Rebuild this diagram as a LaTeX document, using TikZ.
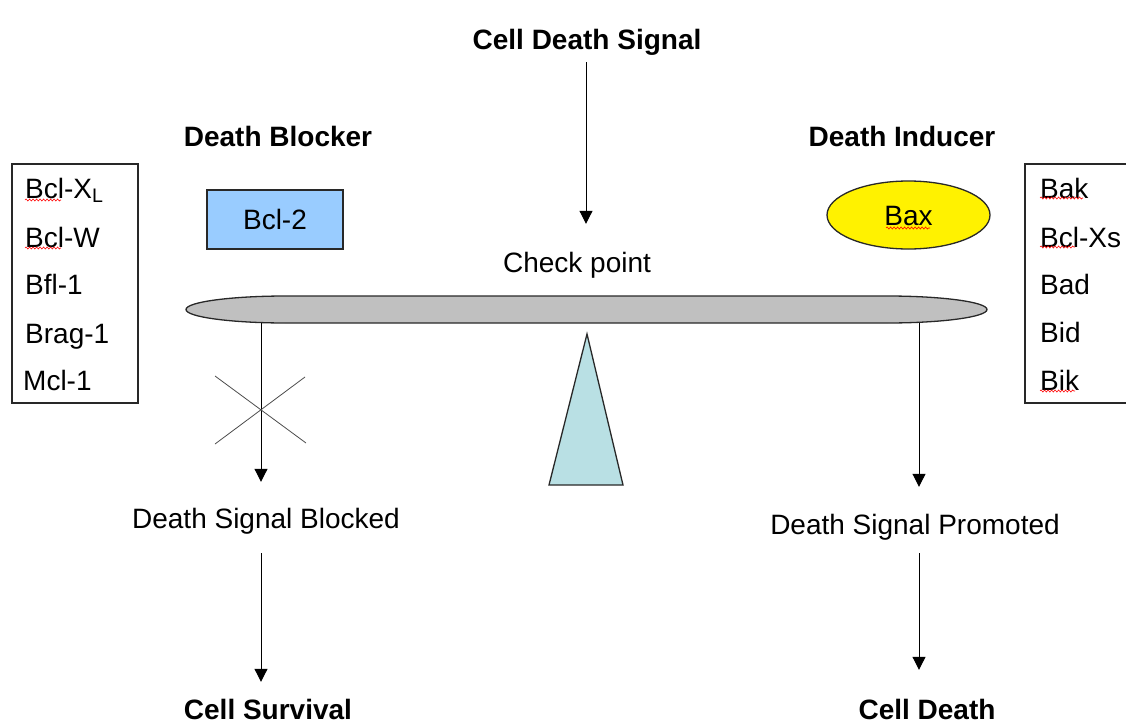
\documentclass[tikz,border=0pt]{standalone}
\usepackage{fontspec}
\setmainfont{Liberation Sans}
\usetikzlibrary{arrows.meta,shapes.geometric,decorations.pathmorphing,calc}
\definecolor{boxblue}{RGB}{153,204,255}
\definecolor{beamgray}{RGB}{192,192,192}
\definecolor{fulcrum}{RGB}{185,224,228}
\definecolor{edge}{RGB}{40,40,40}
\tikzset{
  txt/.style={font=\fontsize{28}{33}\selectfont, inner sep=0pt, text height=20pt, text depth=0pt},
  btxt/.style={txt, font=\fontsize{28}{33}\selectfont\bfseries},
  itm/.style={txt, anchor=west},
  arr/.style={draw=black, line width=1pt, -{Triangle[width=13pt,length=13pt]}},
  listbox/.style={draw=edge, line width=1.3pt, minimum width=126pt, minimum height=239pt, inner sep=0pt},
  squig/.style={draw=red, line width=0.6pt, decorate, decoration={snake, amplitude=1pt, segment length=3.5pt}},
  xline/.style={draw=black!70, line width=0.8pt}
}
\begin{document}
\begin{tikzpicture}[x=1pt,y=-1pt]
\useasboundingbox (0,0) rectangle (1126,725);

% titles
\node[btxt] (cds) at (587,40) {Cell Death Signal};
\node[btxt] (blk) at (278,136) {Death Blocker};
\node[btxt] (ind) at (902,136) {Death Inducer};
\node[txt] (cp) at (577,262) {Check point};

% left list
\node[listbox] (lbox) at (75,283.5) {};
\node[itm] (l1) at (25,188) {Bcl-X\textsubscript{L}};
\node[itm] (l2) at (25,237) {Bcl-W};
\node[itm] (l3) at (25,284) {Bfl-1};
\node[itm] (l4) at (25,333) {Brag-1};
\node[itm] (l5) at (23,380) {Mcl-1};

% right list
\node[listbox, minimum width=130pt] (rbox) at (1090,283.5) {};
\node[itm] (r1) at (1040,188) {Bak};
\node[itm] (r2) at (1040,237) {Bcl-Xs};
\node[itm] (r3) at (1040,284) {Bad};
\node[itm] (r4) at (1040,332) {Bid};
\node[itm] (r5) at (1040,380) {Bik};

% Bcl-2 and Bax
\node[draw=edge, line width=1.3pt, fill=boxblue, minimum width=136pt, minimum height=59pt, txt] (bcl2) at (275,219.5) {Bcl-2};
\node[draw=edge, line width=1.3pt, fill=yellow, ellipse, minimum width=163pt, minimum height=68pt, txt] (bax) at (908.5,215) {Bax};

% spell-check squiggles
\path[squig] (25,200) -- (61,200);
\path[squig] (25,248) -- (61,248);
\path[squig] (1040,198) -- (1083,198);
\path[squig] (1040,247) -- (1075,247);
\path[squig] (1040,391) -- (1075,391);
\path[squig] (886,228) -- (930,228);

% beam
\path[draw=edge, line width=1.3pt, fill=beamgray]
  (286,296) -- (887,296)
  .. controls (942,296) and (987,302) .. (987,309.5)
  .. controls (987,317) and (942,323) .. (887,323)
  -- (286,323)
  .. controls (231,323) and (186,317) .. (186,309.5)
  .. controls (186,302) and (231,296) .. (286,296) -- cycle;
\coordinate (bl) at (261,323);
\coordinate (br) at (919,323);

% fulcrum
\path[draw=edge, line width=1.3pt, fill=fulcrum] (587,334) -- (623,485) -- (549,485) -- cycle;

% lower texts
\node[txt] (dsb) at (266,518) {Death Signal Blocked};
\node[btxt] (cs) at (268,709) {Cell Survival};
\node[txt] (dsp) at (915,524) {Death Signal Promoted};
\node[btxt] (cd) at (927,709) {Cell Death};

% arrows
\draw[arr, shorten <=12pt, shorten >=28pt] ([xshift=-1pt]cds.south) -- ([xshift=-1pt]cds.south |- cp.north);
\draw[arr, shorten >=26pt] (bl) -- (bl |- dsb.north);
\draw[arr, shorten <=25pt, shorten >=17pt] (bl |- dsb.south) -- (bl |- cs.north);
\draw[arr, shorten >=27pt] (br) -- (br |- dsp.north);
\draw[arr, shorten <=19pt, shorten >=29pt] (br |- dsp.south) -- (br |- cd.north);

% cross
\coordinate (xc) at (261,410);
\draw[xline] ($(xc)+(-46,-34)$) -- ($(xc)+(45,33)$);
\draw[xline] ($(xc)+(44,-33)$) -- ($(xc)+(-46,34)$);
\end{tikzpicture}
\end{document}
